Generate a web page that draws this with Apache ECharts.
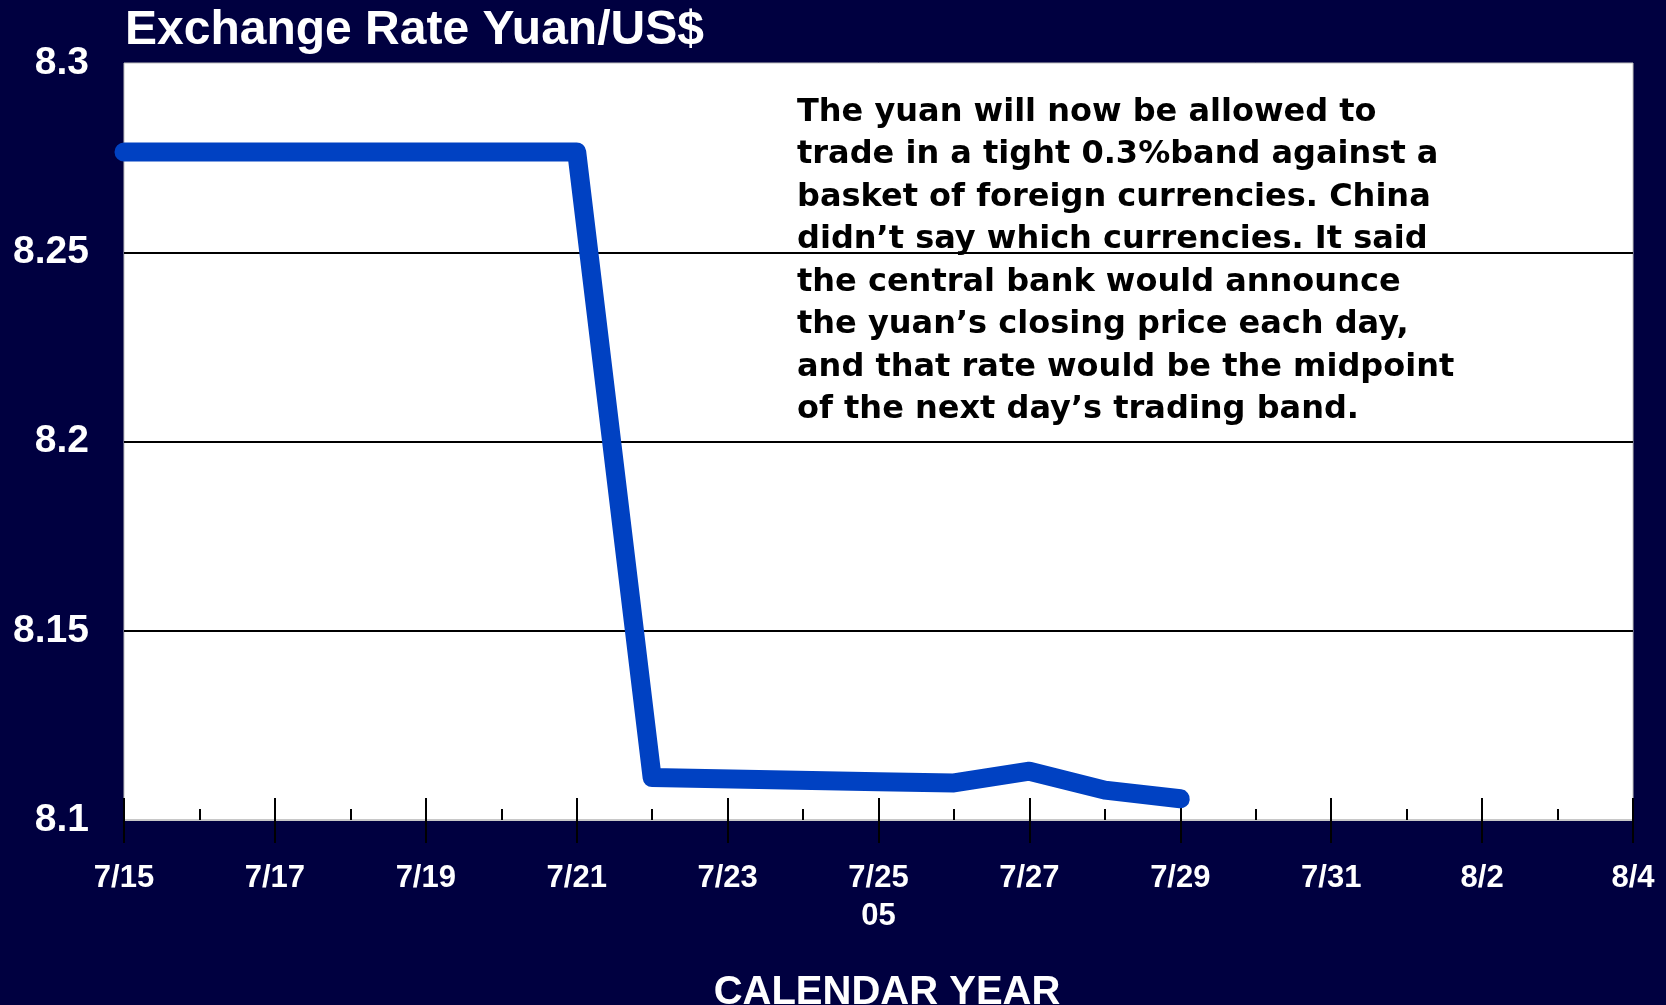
<!DOCTYPE html>
<html>
<head>
<meta charset="utf-8">
<script src="https://cdn.jsdelivr.net/npm/echarts@6/dist/echarts.min.js"></script>
<style>
html,body{margin:0;padding:0;background:#000040;}
#chart{width:1666px;height:1005px;}
</style>
</head>
<body>
<div id="chart"></div>
<script>
const titleText = 'Exchange Rate Yuan/US$';
const xAxisTitle = 'CALENDAR YEAR';
const yearLabel = '05';
const xTickLabels = ['7/15','7/17','7/19','7/21','7/23','7/25','7/27','7/29','7/31','8/2','8/4'];
const yTickLabels = ['8.1','8.15','8.2','8.25','8.3'];
const rateDates = ['7/15','7/18','7/19','7/20','7/21','7/22','7/25','7/26','7/27','7/28','7/29'];
const rateValues = [8.2765, 8.2765, 8.2765, 8.2765, 8.2765, 8.1112, 8.1101, 8.1098, 8.1129, 8.1079, 8.1056];
const noteLines = [
  'The yuan will now be allowed to',
  'trade in a tight 0.3%band against a',
  'basket of foreign currencies. China',
  'didn\u2019t say which currencies. It said',
  'the central bank would announce',
  'the yuan\u2019s closing price each day,',
  'and that rate would be the midpoint',
  'of the next day\u2019s trading band.'
];

function dayOffset(md) {
  const p = md.split('/').map(Number);
  return Math.round((Date.UTC(2005, p[0] - 1, p[1]) - Date.UTC(2005, 6, 15)) / 86400000);
}
const seriesData = rateDates.map((d, i) => [dayOffset(d), rateValues[i]]);
const xMax = dayOffset(xTickLabels[xTickLabels.length - 1]);

const chart = echarts.init(document.getElementById('chart'));
const font = 'Liberation Sans, Arial, sans-serif';
chart.setOption({
  backgroundColor: '#000040',
  animation: false,
  grid: {
    left: 124, right: 33, top: 63, bottom: 185,
    show: true, backgroundColor: '#ffffff', borderColor: '#c0c0c0', borderWidth: 1
  },
  xAxis: [{
    type: 'value', min: 0, max: xMax, interval: 2, position: 'bottom',
    axisLine: { show: true, lineStyle: { color: '#c8c8c8', width: 2 } },
    axisTick: { show: true, inside: true, length: 22, lineStyle: { color: '#000', width: 2 } },
    minorTick: { show: true, splitNumber: 2, length: 11, lineStyle: { color: '#000', width: 2 } },
    splitLine: { show: false },
    axisLabel: {
      show: true, showMinLabel: true, showMaxLabel: true, margin: 39,
      color: '#fff', fontFamily: font, fontWeight: 'bold', fontSize: 31, lineHeight: 38,
      formatter: v => {
        let s = xTickLabels[Math.round(v / 2)] || '';
        if (s === '7/25') s += '\n' + yearLabel;
        return s;
      }
    }
  }, {
    type: 'value', min: 0, max: xMax, interval: 2, position: 'bottom',
    axisLine: { show: false },
    axisTick: { show: true, inside: false, length: 23, lineStyle: { color: '#000', width: 2 } },
    splitLine: { show: false },
    axisLabel: { show: false }
  }],
  yAxis: {
    type: 'value', min: 8.1, max: 8.3, interval: 0.05,
    axisLine: { show: false }, axisTick: { show: false },
    splitLine: { show: true, lineStyle: { color: ['rgba(0,0,0,0)', '#000', '#000', '#000', 'rgba(0,0,0,0)'], width: 2 } },
    axisLabel: {
      margin: 35, color: '#fff', fontFamily: font, fontWeight: 'bold', fontSize: 39,
      formatter: v => yTickLabels[Math.round((v - 8.1) / 0.05)]
    }
  },
  series: [{
    type: 'line', xAxisIndex: 0, data: seriesData, symbol: 'none', clip: false,
    lineStyle: { color: '#0041C2', width: 19, cap: 'round', join: 'round' }
  }],
  graphic: [{
    type: 'text', left: 125, top: 7, z: 100,
    style: { text: titleText, fill: '#fff', font: 'bold 48px ' + font }
  }, {
    type: 'text', x: 797, y: 91, z: 100,
    style: {
      text: noteLines.join('\n'), fill: '#000', lineHeight: 42.5,
      font: 'bold 32px DejaVu Sans, sans-serif', verticalAlign: 'top'
    }
  }, {
    type: 'text', x: 887, y: 993, z: 100,
    style: { text: xAxisTitle, fill: '#fff', font: 'bold 40px ' + font, align: 'center', verticalAlign: 'middle' }
  }]
});
</script>
</body>
</html>
